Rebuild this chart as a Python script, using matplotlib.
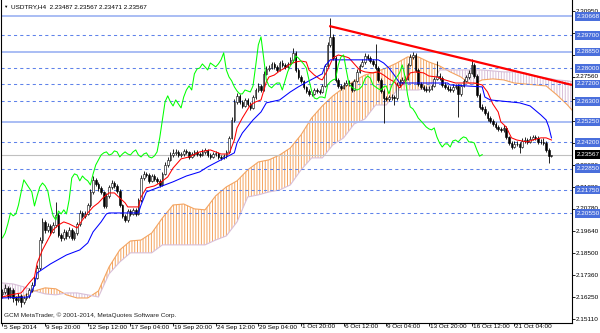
import matplotlib
matplotlib.use('Agg')
import matplotlib.pyplot as plt
import matplotlib.transforms as mtransforms
import numpy as np

plt.rcParams['font.family'] = ['Liberation Sans', 'DejaVu Sans']
plt.rcParams['hatch.linewidth'] = 0.7

# ---------------------------------------------------------------- data
# USDTRY H4 candles, bar 0 = 5 Sep 2014 00:00
opens = [
    2.1640, 2.1651, 2.1672, 2.1631, 2.1661, 2.1620, 2.1610, 2.1631, 2.1600, 2.1620,
    2.1631, 2.1661, 2.1687, 2.1723, 2.1774, 2.1918, 2.2011, 2.1970, 2.1990, 2.1960,
    2.1995, 2.2047, 2.1944, 2.1929, 2.1960, 2.1939, 2.1970, 2.1929, 2.1954, 2.2001,
    2.2057, 2.2042, 2.2052, 2.2098, 2.2165, 2.2227, 2.2206, 2.2186, 2.2165, 2.2093,
    2.2145, 2.2191, 2.2211, 2.2196, 2.2170, 2.2098, 2.2042, 2.2021, 2.2067, 2.2052,
    2.2073, 2.2052, 2.2124, 2.2237, 2.2258, 2.2252, 2.2222, 2.2247, 2.2232, 2.2222,
    2.2201, 2.2258, 2.2304, 2.2330, 2.2355, 2.2366, 2.2371, 2.2355, 2.2360, 2.2376,
    2.2371, 2.2345, 2.2360, 2.2371, 2.2360, 2.2355, 2.2371, 2.2381, 2.2355, 2.2345,
    2.2360, 2.2366, 2.2345, 2.2340, 2.2350, 2.2371, 2.2443, 2.2535, 2.2628, 2.2659,
    2.2628, 2.2607, 2.2638, 2.2617, 2.2597, 2.2653, 2.2689, 2.2710, 2.2689, 2.2772,
    2.2797, 2.2802, 2.2823, 2.2808, 2.2792, 2.2828, 2.2818, 2.2808, 2.2823, 2.2844,
    2.2880, 2.2792, 2.2756, 2.2736, 2.2705, 2.2684, 2.2669, 2.2669, 2.2689, 2.2684,
    2.2679, 2.2710, 2.2813, 2.2921, 2.2962, 2.2854, 2.2741, 2.2710, 2.2700, 2.2715,
    2.2725, 2.2725, 2.2689, 2.2736, 2.2782, 2.2813, 2.2833, 2.2864, 2.2854, 2.2838,
    2.2823, 2.2802, 2.2741, 2.2684, 2.2648, 2.2643, 2.2653, 2.2653, 2.2648, 2.2715,
    2.2731, 2.2741, 2.2746, 2.2818, 2.2859, 2.2869, 2.2792, 2.2720, 2.2705, 2.2695,
    2.2689, 2.2695, 2.2710, 2.2746, 2.2761, 2.2751, 2.2715, 2.2705, 2.2695, 2.2689,
    2.2705, 2.2710, 2.2669, 2.2710, 2.2736, 2.2756, 2.2777, 2.2818, 2.2761, 2.2664,
    2.2602, 2.2592, 2.2571, 2.2545, 2.2530, 2.2515, 2.2499, 2.2489, 2.2484, 2.2494,
    2.2448, 2.2417, 2.2396, 2.2412, 2.2412, 2.2396, 2.2427, 2.2432, 2.2422, 2.2438,
    2.2448, 2.2443, 2.2422, 2.2422, 2.2417, 2.2381, 2.23487]

highs = [
    2.1668, 2.1690, 2.1680, 2.1675, 2.1670, 2.1632, 2.1645, 2.1640, 2.1632, 2.1648,
    2.1672, 2.1700, 2.1735, 2.1790, 2.1935, 2.2030, 2.2020, 2.2003, 2.1998, 2.2010,
    2.2115, 2.2055, 2.1955, 2.1972, 2.1968, 2.1985, 2.1978, 2.1966, 2.2012, 2.2070,
    2.2068, 2.2065, 2.2110, 2.2178, 2.2245, 2.2238, 2.2215, 2.2195, 2.2172, 2.2158,
    2.2203, 2.2225, 2.2220, 2.2205, 2.2178, 2.2105, 2.2052, 2.2078, 2.2076, 2.2085,
    2.2080, 2.2135, 2.2250, 2.2272, 2.2268, 2.2260, 2.2258, 2.2256, 2.2240, 2.2230,
    2.2270, 2.2318, 2.2345, 2.2370, 2.2385, 2.2384, 2.2380, 2.2372, 2.2388, 2.2385,
    2.2378, 2.2372, 2.2382, 2.2380, 2.2370, 2.2384, 2.2392, 2.2388, 2.2365, 2.2370,
    2.2378, 2.2372, 2.2355, 2.2362, 2.2382, 2.2455, 2.2550, 2.2645, 2.2672, 2.2668,
    2.2638, 2.2650, 2.2648, 2.2625, 2.2665, 2.2700, 2.2725, 2.2718, 2.2785, 2.2810,
    2.2815, 2.2835, 2.2832, 2.2815, 2.2840, 2.2842, 2.2830, 2.2835, 2.2858, 2.2905,
    2.2890, 2.2800, 2.2765, 2.2742, 2.2712, 2.2692, 2.2680, 2.2700, 2.2698, 2.2692,
    2.2722, 2.2825, 2.2935, 2.3060, 2.2975, 2.2862, 2.2750, 2.2722, 2.2728, 2.2738,
    2.2738, 2.2732, 2.2748, 2.2795, 2.2825, 2.2846, 2.2878, 2.2875, 2.2862, 2.2850,
    2.2925, 2.2810, 2.2750, 2.2692, 2.2660, 2.2665, 2.2666, 2.2665, 2.2728, 2.2745,
    2.2755, 2.2760, 2.2830, 2.2872, 2.2885, 2.2878, 2.2800, 2.2730, 2.2716, 2.2708,
    2.2708, 2.2722, 2.2758, 2.2838, 2.2775, 2.2760, 2.2728, 2.2716, 2.2708, 2.2718,
    2.2722, 2.2718, 2.2722, 2.2748, 2.2768, 2.2790, 2.2850, 2.2826, 2.2770, 2.2672,
    2.2615, 2.2605, 2.2580, 2.2555, 2.2542, 2.2525, 2.2510, 2.2500, 2.2508, 2.2502,
    2.2455, 2.2425, 2.2425, 2.2425, 2.2420, 2.2440, 2.2445, 2.2442, 2.2450, 2.2460,
    2.2458, 2.2452, 2.2435, 2.2440, 2.2425, 2.2390, 2.23567]

lows = [
    2.1622, 2.1640, 2.1615, 2.1620, 2.1600, 2.1585, 2.1600, 2.1575, 2.1588, 2.1610,
    2.1622, 2.1650, 2.1680, 2.1715, 2.1765, 2.1905, 2.1955, 2.1958, 2.1945, 2.1952,
    2.1985, 2.1932, 2.1915, 2.1920, 2.1925, 2.1930, 2.1918, 2.1920, 2.1945, 2.1990,
    2.2030, 2.2032, 2.2045, 2.2090, 2.2155, 2.2195, 2.2172, 2.2155, 2.2080, 2.2085,
    2.2135, 2.2180, 2.2185, 2.2160, 2.2088, 2.2030, 2.2008, 2.2012, 2.2040, 2.2045,
    2.2040, 2.2045, 2.2115, 2.2228, 2.2240, 2.2210, 2.2215, 2.2222, 2.2210, 2.2190,
    2.2195, 2.2250, 2.2295, 2.2322, 2.2345, 2.2355, 2.2345, 2.2345, 2.2350, 2.2362,
    2.2335, 2.2338, 2.2352, 2.2350, 2.2345, 2.2348, 2.2362, 2.2345, 2.2334, 2.2338,
    2.2350, 2.2336, 2.2328, 2.2332, 2.2342, 2.2365, 2.2435, 2.2525, 2.2615, 2.2615,
    2.2595, 2.2600, 2.2605, 2.2585, 2.2590, 2.2645, 2.2680, 2.2678, 2.2682, 2.2765,
    2.2788, 2.2795, 2.2798, 2.2780, 2.2785, 2.2808, 2.2798, 2.2800, 2.2815, 2.2835,
    2.2780, 2.2745, 2.2725, 2.2695, 2.2672, 2.2658, 2.2658, 2.2662, 2.2675, 2.2668,
    2.2672, 2.2705, 2.2805, 2.2912, 2.2845, 2.2730, 2.2698, 2.2688, 2.2692, 2.2708,
    2.2712, 2.2678, 2.2682, 2.2728, 2.2775, 2.2805, 2.2825, 2.2842, 2.2828, 2.2812,
    2.2792, 2.2730, 2.2672, 2.2520, 2.2630, 2.2635, 2.2640, 2.2612, 2.2640, 2.2705,
    2.2722, 2.2735, 2.2738, 2.2810, 2.2850, 2.2782, 2.2710, 2.2695, 2.2685, 2.2678,
    2.2680, 2.2688, 2.2702, 2.2738, 2.2740, 2.2705, 2.2695, 2.2685, 2.2678, 2.2680,
    2.2695, 2.2550, 2.2660, 2.2702, 2.2728, 2.2748, 2.2770, 2.2750, 2.2652, 2.2590,
    2.2580, 2.2560, 2.2532, 2.2518, 2.2502, 2.2488, 2.2478, 2.2472, 2.2475, 2.2438,
    2.2405, 2.2385, 2.2390, 2.2400, 2.2365, 2.2390, 2.2418, 2.2412, 2.2415, 2.2430,
    2.2432, 2.2412, 2.2410, 2.2405, 2.2370, 2.2314, 2.23471]

closes = [
    2.1651, 2.1672, 2.1631, 2.1661, 2.1620, 2.1610, 2.1631, 2.1600, 2.1620, 2.1631,
    2.1661, 2.1687, 2.1723, 2.1774, 2.1918, 2.2011, 2.1970, 2.1990, 2.1960, 2.1995,
    2.2047, 2.1944, 2.1929, 2.1960, 2.1939, 2.1970, 2.1929, 2.1954, 2.2001, 2.2057,
    2.2042, 2.2052, 2.2098, 2.2165, 2.2227, 2.2206, 2.2186, 2.2165, 2.2093, 2.2145,
    2.2191, 2.2211, 2.2196, 2.2170, 2.2098, 2.2042, 2.2021, 2.2067, 2.2052, 2.2073,
    2.2052, 2.2124, 2.2237, 2.2258, 2.2252, 2.2222, 2.2247, 2.2232, 2.2222, 2.2201,
    2.2258, 2.2304, 2.2330, 2.2355, 2.2366, 2.2371, 2.2355, 2.2360, 2.2376, 2.2371,
    2.2345, 2.2360, 2.2371, 2.2360, 2.2355, 2.2371, 2.2381, 2.2355, 2.2345, 2.2360,
    2.2366, 2.2345, 2.2340, 2.2350, 2.2371, 2.2443, 2.2535, 2.2628, 2.2659, 2.2628,
    2.2607, 2.2638, 2.2617, 2.2597, 2.2653, 2.2689, 2.2710, 2.2689, 2.2772, 2.2797,
    2.2802, 2.2823, 2.2808, 2.2792, 2.2828, 2.2818, 2.2808, 2.2823, 2.2844, 2.2880,
    2.2792, 2.2756, 2.2736, 2.2705, 2.2684, 2.2669, 2.2669, 2.2689, 2.2684, 2.2679,
    2.2710, 2.2813, 2.2921, 2.2962, 2.2854, 2.2741, 2.2710, 2.2700, 2.2715, 2.2725,
    2.2725, 2.2689, 2.2736, 2.2782, 2.2813, 2.2833, 2.2864, 2.2854, 2.2838, 2.2823,
    2.2802, 2.2741, 2.2684, 2.2648, 2.2643, 2.2653, 2.2653, 2.2648, 2.2715, 2.2731,
    2.2741, 2.2746, 2.2818, 2.2859, 2.2869, 2.2792, 2.2720, 2.2705, 2.2695, 2.2689,
    2.2695, 2.2710, 2.2746, 2.2761, 2.2751, 2.2715, 2.2705, 2.2695, 2.2689, 2.2705,
    2.2710, 2.2669, 2.2710, 2.2736, 2.2756, 2.2777, 2.2818, 2.2761, 2.2664, 2.2602,
    2.2592, 2.2571, 2.2545, 2.2530, 2.2515, 2.2499, 2.2489, 2.2484, 2.2494, 2.2448,
    2.2417, 2.2396, 2.2412, 2.2412, 2.2396, 2.2427, 2.2432, 2.2422, 2.2438, 2.2448,
    2.2443, 2.2422, 2.2422, 2.2417, 2.2381, 2.2349, 2.23567]

# Ichimoku lines (bar index, price)
tenkan_bars = [0, 3, 7, 10, 12, 13, 15, 17, 19, 21, 23, 25, 28, 30, 32, 34, 36, 38, 40, 42,
               44, 46, 47, 51, 52, 54, 57, 59, 62, 64, 66, 67, 70, 74, 78, 82, 85, 87, 88, 90,
               93, 95, 97, 99, 100, 102, 104, 106, 108, 110, 112, 114, 115, 117, 119, 120, 122, 124, 126, 129,
               130, 132, 134, 136, 139, 141, 143, 145, 147, 149, 151, 153, 155, 158, 160, 163, 166, 170, 174, 177,
               180, 182, 184, 186, 187, 189, 191, 193, 195, 197, 199, 202, 204, 206]
tenkan_vals = [2.1625, 2.1636, 2.1646, 2.1697, 2.1728, 2.1800, 2.1867, 2.1918, 2.1970, 2.1995,
               2.2011, 2.2001, 2.1980, 2.2021, 2.2057, 2.2088, 2.2109, 2.2139, 2.2160, 2.2160,
               2.2134, 2.2109, 2.2088, 2.2088, 2.2139, 2.2186, 2.2196, 2.2211, 2.2242, 2.2288,
               2.2319, 2.2335, 2.2345, 2.2371, 2.2381, 2.2360, 2.2360, 2.2432, 2.2494, 2.2545,
               2.2612, 2.2628, 2.2638, 2.2731, 2.2756, 2.2766, 2.2787, 2.2802, 2.2823, 2.2833,
               2.2838, 2.2833, 2.2792, 2.2766, 2.2746, 2.2741, 2.2792, 2.2854, 2.2869, 2.2859,
               2.2854, 2.2823, 2.2792, 2.2782, 2.2777, 2.2782, 2.2766, 2.2746, 2.2731, 2.2700,
               2.2731, 2.2777, 2.2782, 2.2777, 2.2761, 2.2756, 2.2741, 2.2725, 2.2725, 2.2725,
               2.2715, 2.2679, 2.2617, 2.2576, 2.2525, 2.2499, 2.2443, 2.2432, 2.2427, 2.2422,
               2.2432, 2.2443, 2.2443, 2.2432]

kijun_bars = [0, 10, 12, 13, 18, 24, 29, 32, 34, 37, 39, 40, 51, 52, 54, 59, 64, 69, 74, 77,
              82, 87, 88, 90, 94, 97, 99, 104, 108, 111, 115, 120, 121, 123, 141, 143, 145, 147, 149, 167,
              168, 180, 181, 183, 194, 198, 202, 204, 205, 206]
kijun_vals = [2.1620, 2.1625, 2.1687, 2.1749, 2.1795, 2.1841, 2.1867, 2.1903, 2.1960, 2.2011,
              2.2052, 2.2057, 2.2057, 2.2098, 2.2165, 2.2191, 2.2217, 2.2247, 2.2268, 2.2294,
              2.2330, 2.2366, 2.2417, 2.2468, 2.2535, 2.2576, 2.2623, 2.2638, 2.2679, 2.2705,
              2.2736, 2.2772, 2.2813, 2.2844, 2.2844, 2.2828, 2.2802, 2.2766, 2.2725, 2.2725,
              2.2715, 2.2705, 2.2653, 2.2638, 2.2623, 2.2607, 2.2561, 2.2535, 2.2499, 2.2443]

cloud_bars = list(range(0, 213, 4)) + [214]
span_a = [2.1625, 2.1625, 2.1631, 2.1656, 2.1672, 2.1667, 2.1636, 2.1620, 2.1620, 2.1656,
          2.1780, 2.1867, 2.1913, 2.1918, 2.1954, 2.2031, 2.2098, 2.2103, 2.2078, 2.2073,
          2.2145, 2.2191, 2.2222, 2.2278, 2.2319, 2.2330, 2.2355, 2.2391, 2.2458, 2.2545,
          2.2607, 2.2659, 2.2700, 2.2736, 2.2766, 2.2782, 2.2802, 2.2828, 2.2859, 2.2859,
          2.2833, 2.2813, 2.2782, 2.2756, 2.2715, 2.2741, 2.2746, 2.2741, 2.2725, 2.2720,
          2.2715, 2.2710, 2.2664, 2.2612, 2.2581]
span_b = [2.1697, 2.1692, 2.1677, 2.1656, 2.1641, 2.1636, 2.1646, 2.1646, 2.1636, 2.1625,
          2.1744, 2.1805, 2.1852, 2.1852, 2.1852, 2.1893, 2.1893, 2.1893, 2.1893, 2.1893,
          2.1918, 2.1939, 2.2011, 2.2139, 2.2150, 2.2165, 2.2175, 2.2201, 2.2278, 2.2340,
          2.2340, 2.2407, 2.2443, 2.2515, 2.2540, 2.2612, 2.2612, 2.2689, 2.2689, 2.2689,
          2.2700, 2.2792, 2.2792, 2.2792, 2.2792, 2.2792, 2.2787, 2.2782, 2.2782, 2.2777,
          2.2761, 2.2751, 2.2741, 2.2736, 2.2731]
chikou_shift = 26

trend_bars = [122.6, 213.7]
trend_prices = [2.3018, 2.2715]

solid_levels = [2.30668, 2.28850, 2.25250]
dashed_levels = [2.29700, 2.28000, 2.27200, 2.26300, 2.24200, 2.22850, 2.21750, 2.20550]
last_price = 2.23567

# price scale: all tick positions, and the labels not hidden behind level boxes
y_ticks = [2.30950, 2.29820, 2.28690, 2.27560, 2.26430, 2.25300, 2.24170, 2.23020,
           2.21880, 2.20780, 2.19640, 2.18500, 2.17360, 2.16250, 2.15110]
y_labels = ['2.30950', '2.27560', '2.23020', '2.21880', '2.20780',
            '2.19640', '2.18500', '2.17360', '2.16250', '2.15110']
x_tick_bars = [0, 16, 32, 48, 64, 80, 96, 112, 128, 144, 160, 176, 192]
x_tick_labels = ['5 Sep 2014', '9 Sep 20:00', '12 Sep 12:00', '17 Sep 04:00', '19 Sep 20:00',
                 '24 Sep 12:00', '29 Sep 04:00', '1 Oct 20:00', '6 Oct 12:00', '9 Oct 04:00',
                 '13 Oct 20:00', '16 Oct 12:00', '21 Oct 04:00']

# ---------------------------------------------------------------- figure
fig = plt.figure(figsize=(6, 3.33), dpi=100)
ax = fig.add_axes([0.5 / 600, 10 / 333, 571.5 / 600, 323 / 333])
ax.set_xlim(-0.75, 213.7)
ax.set_ylim(2.14914, 2.31516)

FS = 4.6
box_blue = '#4a6fdc'

# cloud
a = np.array(span_a)
b = np.array(span_b)
ax.fill_between(cloud_bars, a, b, where=a >= b, interpolate=True, facecolor='none',
                edgecolor='#f4a460', hatch='||||||', linewidth=0, zorder=1)
ax.fill_between(cloud_bars, a, b, where=a < b, interpolate=True, facecolor='none',
                edgecolor='#d8bfd8', hatch='||||||', linewidth=0, zorder=1)
ax.plot(cloud_bars, span_a, color='#f4a460', lw=0.8, zorder=1.2)
ax.plot(cloud_bars, span_b, color='#d8bfd8', lw=0.8, zorder=1.2)

# horizontal levels
for lv in solid_levels:
    ax.axhline(lv, color='#a3b8f3', lw=1.3, zorder=1.5)
for lv in dashed_levels:
    ax.axhline(lv, color='#5f82ea', lw=0.75, ls=(0, (3, 3)), zorder=1.5)
ax.axhline(last_price, color='#c0c0c0', lw=0.8, zorder=1.5)

# candles
o = np.array(opens)
h = np.array(highs)
l = np.array(lows)
c = np.array(closes)
bars = np.arange(len(c))
up = c >= o
ax.vlines(bars, l, h, color='black', lw=0.6, zorder=2)
body_bot = np.minimum(o, c)
body_h = np.maximum(np.abs(c - o), 0.00012)
ax.bar(bars[up], body_h[up], bottom=body_bot[up], width=0.6, color='white',
       edgecolor='black', linewidth=0.4, zorder=3)
ax.bar(bars[~up], body_h[~up], bottom=body_bot[~up], width=0.6, color='black',
       edgecolor='black', linewidth=0.4, zorder=3)

# ichimoku lines
ax.plot(tenkan_bars, tenkan_vals, color='#ff0000', lw=0.75, zorder=4)
ax.plot(kijun_bars, kijun_vals, color='#0000ff', lw=0.75, zorder=4)
ax.plot(bars[:-chikou_shift], c[chikou_shift:], color='#00ff00', lw=0.75, zorder=4)

# trend line
ax.plot(trend_bars, trend_prices, color='#ff0000', lw=1.6, zorder=5, solid_capstyle='butt')

# axes frame
ax.spines['top'].set_visible(False)
for s in ['left', 'right', 'bottom']:
    ax.spines[s].set_color('black')
    ax.spines[s].set_linewidth(0.8)

ax.yaxis.tick_right()
ax.set_yticks(y_ticks)
ax.tick_params(axis='y', length=2, width=0.6, labelright=False, labelleft=False)
ax.set_xticks(x_tick_bars)
ax.tick_params(axis='x', length=2, width=0.6, labelbottom=False)

ty = mtransforms.blended_transform_factory(ax.transAxes, ax.transData)
tx = mtransforms.blended_transform_factory(ax.transData, ax.transAxes)

for lab in y_labels:
    ax.text(1 + 4 / 571.5, float(lab), lab, transform=ty, fontsize=FS, va='center',
            ha='left', clip_on=False, zorder=6)

for lv in solid_levels + dashed_levels:
    ax.text(1 + 4.5 / 571.5, lv, f'{lv:.5f}', transform=ty, fontsize=FS, va='center',
            ha='left', color='white', clip_on=False, zorder=8,
            bbox=dict(boxstyle='square,pad=0.28', fc=box_blue, ec='none'))
ax.text(1 + 4.5 / 571.5, last_price, f'{last_price:.5f}', transform=ty, fontsize=FS,
        va='center', ha='left', color='white', clip_on=False, zorder=9,
        bbox=dict(boxstyle='square,pad=0.28', fc='black', ec='none'))

for bx, lab in zip(x_tick_bars, x_tick_labels):
    ax.text(bx + 0.4, -1.5 / 323, lab, transform=tx, fontsize=FS, va='top', ha='left',
            clip_on=False)

# header and watermark
fig.text(3.5 / 600, 1 - 7 / 333, '▼', fontsize=3.2, va='center', ha='left')
fig.text(11 / 600, 1 - 7 / 333, 'USDTRY,H4  2.23487 2.23567 2.23471 2.23567',
         fontsize=FS, va='center', ha='left')
ax.text(4 / 571.5, 8 / 323, 'GCM MetaTrader, © 2001-2014, MetaQuotes Software Corp.',
        transform=ax.transAxes, fontsize=FS, va='center', ha='left', color='#202020', zorder=7)

fig.savefig('out.png', dpi=100)
